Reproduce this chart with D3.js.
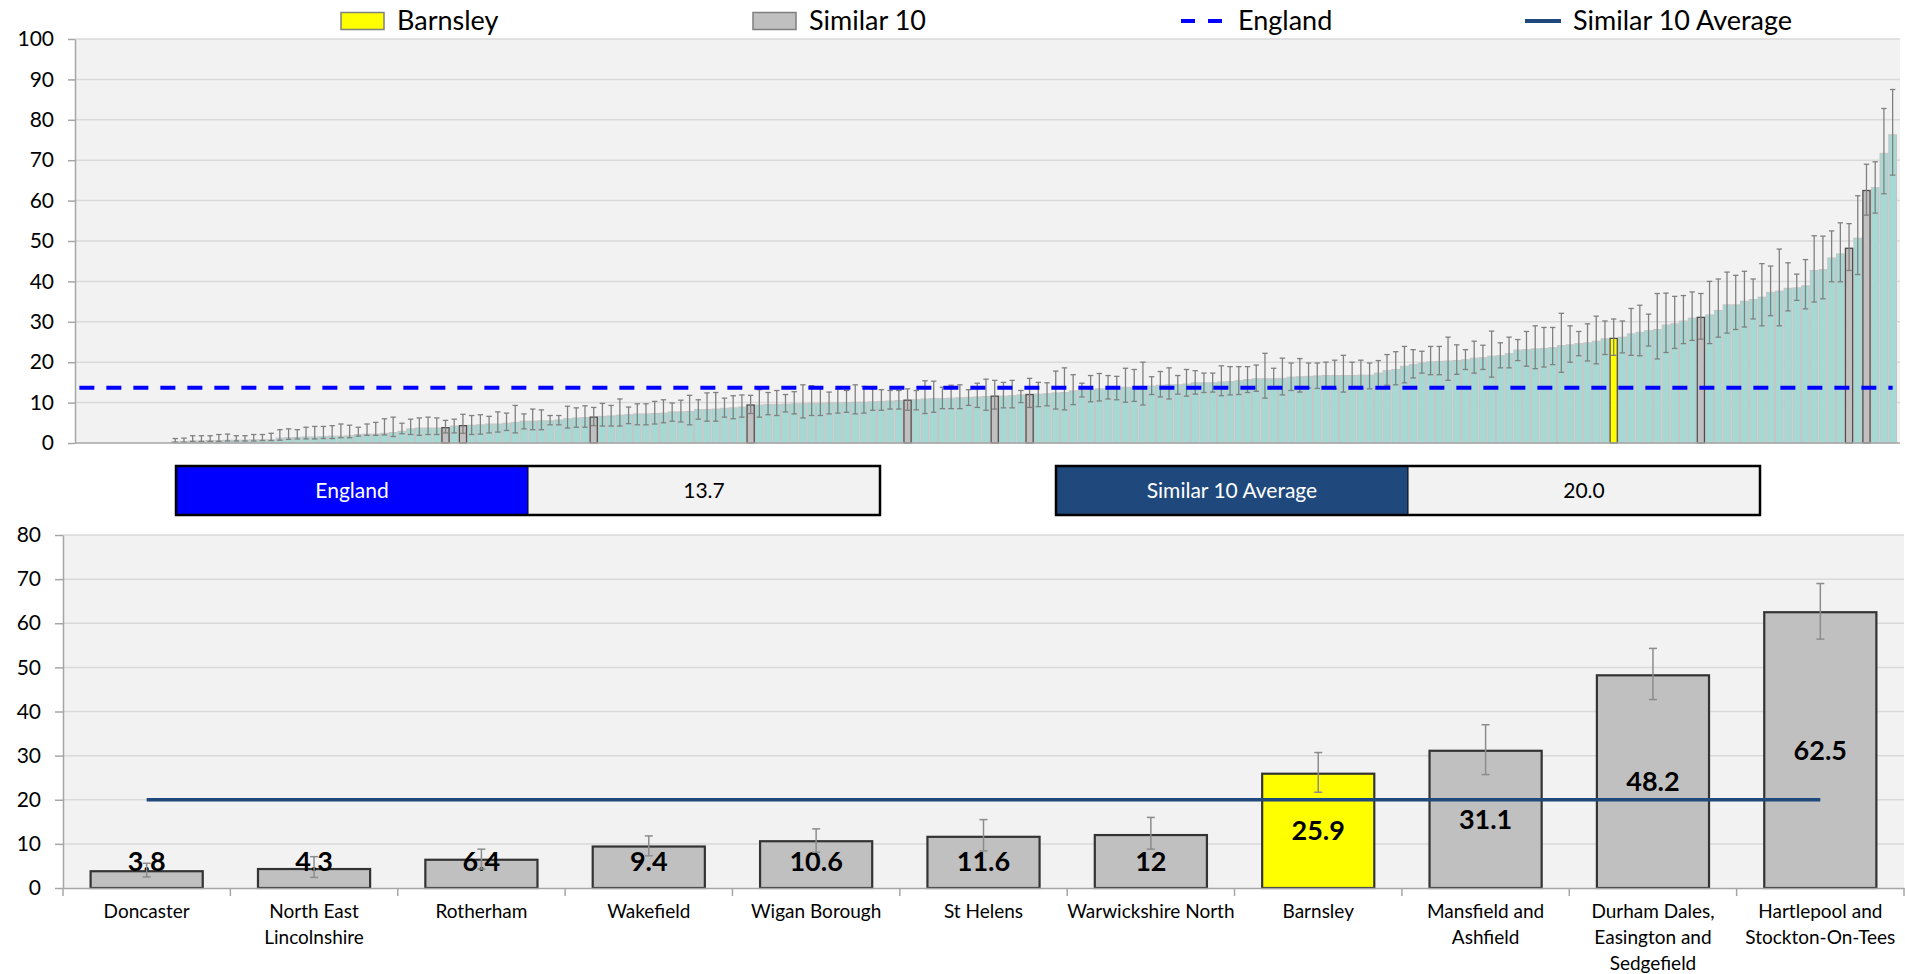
<!DOCTYPE html>
<html><head><meta charset="utf-8">
<script src="https://cdn.jsdelivr.net/npm/d3@7"></script>
<style>
html,body{margin:0;padding:0;background:#fff;}
svg{display:block;}
</style></head><body>
<svg id="chart" width="1905" height="974"></svg>
<script>
// ---------------- DATA ----------------
// Top chart: all areas ranked by rate (first 11 have no value)
const rankedRates = [
  null,null,null,null,null,null,null,null,null,null,null,
  0.3,0.4,0.5,0.5,0.6,0.6,0.7,0.7,0.7,0.8,0.8,0.8,
  1.2,1.3,1.4,1.5,1.5,1.6,1.7,1.7,1.8,2.1,2.2,2.2,2.4,2.6,2.9,
  3.5,3.7,3.7,3.7,3.8,4.2,4.3,4.4,4.5,4.7,
  4.7,4.9,5.1,5.4,5.4,5.5,5.5,5.7,6.0,6.2,
  6.3,6.4,6.6,6.7,6.9,7.0,7.2,7.2,7.3,7.4,
  7.7,7.7,7.8,8.3,8.3,8.4,8.6,8.7,8.9,9.4,
  9.4,9.5,9.5,9.6,9.7,9.7,9.8,9.8,9.9,9.9,
  10.0,10.1,10.1,10.2,10.3,10.4,10.5,10.6,10.7,10.9,
  11.0,11.0,11.1,11.2,11.3,11.4,11.5,11.6,11.6,11.7,
  11.9,12.0,12.1,12.2,12.4,12.5,12.9,13.0,13.2,13.4,
  13.4,13.6,13.8,13.8,14.0,14.1,14.3,14.4,14.4,14.6,
  14.9,14.9,14.9,15.1,15.2,15.4,15.7,15.9,15.9,15.9,
  16.0,16.3,16.4,16.5,16.6,16.7,16.7,16.7,16.7,16.8,
  16.8,17.3,17.9,18.2,19.0,19.4,19.8,20.1,20.2,20.3,
  20.4,20.6,21.0,21.1,21.5,21.6,22.1,23.0,23.1,23.3,
  23.4,23.6,24.1,24.3,24.6,24.8,25.2,25.8,25.9,26.2,
  27.0,27.4,27.8,28.1,29.2,29.5,30.2,30.9,31.1,31.7,
  32.8,34.2,34.2,35.1,35.5,36.1,37.3,37.6,38.3,38.4,
  38.9,42.7,42.9,45.8,46.8,48.2,50.7,62.5,63.2,71.7,76.3
];
const rankedLower = [
  null,null,null,null,null,null,null,null,null,null,null,
  0.2,0.2,0.4,0.4,0.4,0.4,0.5,0.5,0.5,0.5,0.6,0.6,
  0.7,0.9,1.0,1.0,1.0,1.1,1.1,1.3,1.3,1.7,1.9,1.9,2.0,1.6,2.3,
  2.1,1.9,2.1,2.1,2.5,2.5,2.4,2.1,2.2,2.5,
  2.7,3.1,2.5,3.5,3.3,3.3,4.5,4.5,3.7,3.9,
  3.9,4.3,4.2,4.2,4.2,4.8,4.5,4.5,4.7,5.0,
  5.4,5.2,4.5,5.9,5.4,5.4,6.4,6.0,6.4,7.3,
  6.4,7.0,6.8,7.7,7.2,6.2,6.8,6.8,7.2,7.4,
  7.6,7.2,7.4,8.1,8.1,8.4,8.4,8.1,8.2,7.3,
  7.6,8.5,8.5,8.5,9.3,8.8,8.1,8.4,8.7,8.7,
  10.0,8.8,9.0,9.2,8.4,8.2,9.5,11.4,10.2,10.4,
  10.9,10.7,10.1,10.3,9.4,12.0,11.4,10.9,12.1,11.6,
  12.1,12.5,12.6,11.7,11.9,12.0,12.5,12.8,11.1,13.6,
  11.9,13.0,12.6,13.6,13.5,13.5,13.4,12.6,13.5,13.4,
  13.4,13.6,14.3,14.4,14.9,16.1,17.3,16.9,16.9,15.5,
  17.0,18.2,17.3,18.2,16.3,18.6,18.6,20.4,19.0,18.4,
  18.8,19.4,17.5,20.0,21.6,20.3,19.6,21.9,21.7,22.3,
  21.7,21.6,24.0,20.8,22.4,23.4,24.6,25.4,25.7,24.6,
  26.2,27.2,28.1,28.7,30.7,29.0,31.5,29.0,32.7,35.3,
  33.2,34.9,35.7,39.9,39.9,42.7,41.7,56.4,56.9,61.7,66.3
];
const rankedUpper = [
  null,null,null,null,null,null,null,null,null,null,null,
  1.1,1.2,1.8,1.8,1.8,2.1,2.2,1.8,1.8,2.1,2.1,2.4,
  3.3,3.5,3.3,3.9,4.1,4.1,4.3,4.7,4.4,3.9,4.7,5.1,6.0,6.4,4.9,
  5.9,6.2,6.4,6.2,5.6,5.9,7.1,6.8,7.0,6.6,
  7.7,7.4,9.3,7.2,8.4,8.2,6.8,6.8,9.1,8.7,
  9.2,8.8,9.8,9.3,10.9,8.9,9.7,9.7,10.3,10.7,
  9.9,10.6,11.8,10.7,12.4,12.5,11.1,11.7,11.9,11.8,
  13.2,12.5,13.0,12.0,12.7,14.4,14.2,13.7,12.6,13.4,
  13.0,14.4,14.0,13.4,13.2,13.0,13.0,13.4,13.0,15.4,
  15.3,13.8,14.3,14.4,13.2,14.8,15.8,15.5,15.0,15.5,
  13.0,16.0,15.0,14.9,17.8,18.6,16.9,14.8,16.7,17.2,
  16.7,16.5,18.5,18.2,20.0,16.4,17.7,18.6,16.7,18.2,
  17.9,17.3,17.3,19.1,18.9,18.9,18.9,19.3,22.2,18.5,
  21.0,19.8,20.9,19.8,19.8,20.0,20.5,21.7,20.0,20.5,
  19.8,20.4,21.9,22.6,23.9,23.1,22.7,23.9,23.9,26.2,
  24.3,23.1,25.2,24.2,27.7,24.8,26.2,25.6,27.6,29.0,
  28.6,28.6,32.1,29.0,27.6,29.5,31.4,30.2,30.7,30.2,
  33.3,34.1,31.9,37.0,37.1,36.3,36.5,37.4,37.0,40.0,
  40.6,42.3,41.5,42.5,40.6,44.4,43.8,48.0,44.6,41.8,
  45.4,51.3,51.2,52.5,54.5,54.3,61.2,69.0,69.6,82.8,87.5
];

const englandValue = 13.7;
const similarAverage = 20.0;
const focusArea = "Barnsley";

// Bottom chart: the focus area and its 10 similar areas
const similarNames = ["Doncaster","North East Lincolnshire","Rotherham","Wakefield","Wigan Borough",
  "St Helens","Warwickshire North","Barnsley","Mansfield and Ashfield",
  "Durham Dales, Easington and Sedgefield","Hartlepool and Stockton-On-Tees"];
const similarValues = [3.8,4.3,6.4,9.4,10.6,11.6,12,25.9,31.1,48.2,62.5];
const similarLower  = [2.5,2.4,4.3,7.3,8.1,8.4,8.8,21.7,25.7,42.7,56.4];
const similarUpper  = [5.6,7.1,8.8,11.8,13.4,15.5,16.0,30.7,37.0,54.3,69.0];
// rank position (index into ranked list) of each similar area
const similarRanks  = [42,44,59,77,95,105,109,176,186,203,205];

const topTicks = d3.range(0, 101, 10);
const bottomTicks = d3.range(0, 81, 10);
const legendLabels = ["Barnsley","Similar 10","England","Similar 10 Average"];
const infoLabels = ["England","Similar 10 Average"];

// ---------------- DRAW ----------------
const FONT = "Lato, 'Open Sans', sans-serif";
const svg = d3.select("#chart").style("font-family", FONT);

const C = {
  bg:"#F2F2F2", grid:"#D9D9D9", axis:"#A6A6A6",
  teal:"#A6D9D4", tealStroke:"#C4C4C4",
  grey:"#C0C0C0", greyStroke:"#4D4D4D", yellow:"#FFFF00",
  err:"#808080", england:"#0000FF", avg:"#1F497D"
};

// ===== Legend =====
const lg = svg.append("g").attr("class","legend");
const legendY = 21;
const legendItems = [
  {label:legendLabels[0], type:"rect", fill:C.yellow, x:341},
  {label:legendLabels[1], type:"rect", fill:C.grey, x:753},
  {label:legendLabels[2], type:"dash", x:1181},
  {label:legendLabels[3], type:"line", x:1525}
];
legendItems.forEach(it=>{
  if(it.type==="rect"){
    lg.append("rect").attr("x",it.x).attr("y",legendY-8.5).attr("width",43).attr("height",17)
      .attr("fill",it.fill).attr("stroke","#7F7F7F").attr("stroke-width",1.5);
    lg.append("text").attr("x",it.x+56).attr("y",legendY).attr("dy","0.35em")
      .attr("font-size",27).text(it.label);
  } else if(it.type==="dash"){
    lg.append("line").attr("x1",it.x).attr("x2",it.x+43).attr("y1",legendY).attr("y2",legendY)
      .attr("stroke",C.england).attr("stroke-width",4).attr("stroke-dasharray","14,13");
    lg.append("text").attr("x",it.x+57).attr("y",legendY).attr("dy","0.35em")
      .attr("font-size",27).text(it.label);
  } else {
    lg.append("line").attr("x1",it.x).attr("x2",it.x+36).attr("y1",legendY).attr("y2",legendY)
      .attr("stroke",C.avg).attr("stroke-width",4);
    lg.append("text").attr("x",it.x+48).attr("y",legendY).attr("dy","0.35em")
      .attr("font-size",27).text(it.label);
  }
});

// ===== Top chart =====
const tL=75, tR=1897, tT=39, tB=443;
const topX = d3.scaleBand().domain(d3.range(rankedRates.length)).range([tL,tR]).padding(0);
const topY = d3.scaleLinear().domain([0,100]).range([tB,tT]);
const gt = svg.append("g");
gt.append("rect").attr("x",tL).attr("y",tT).attr("width",tR-tL+3).attr("height",tB-tT).attr("fill",C.bg);
gt.selectAll("line.grid").data(topTicks.filter(t=>t>0)).join("line")
  .attr("x1",tL).attr("x2",tR+3).attr("y1",d=>topY(d)).attr("y2",d=>topY(d))
  .attr("stroke",C.grid).attr("stroke-width",1.5);

const highlight = new Map(similarRanks.map((r,j)=>[r,similarNames[j]]));
const topData = rankedRates.map((v,i)=>({i,v,lo:rankedLower[i],hi:rankedUpper[i],name:highlight.get(i)}))
  .filter(d=>d.v!=null);
const bw = topX.bandwidth();

gt.selectAll("rect.bar").data(topData.filter(d=>!d.name)).join("rect")
  .attr("x",d=>topX(d.i)+0.5).attr("width",bw-1)
  .attr("y",d=>topY(d.v)).attr("height",d=>tB-topY(d.v))
  .attr("fill",C.teal).attr("stroke",C.tealStroke).attr("stroke-width",1);
gt.selectAll("rect.hbar").data(topData.filter(d=>d.name)).join("rect")
  .attr("x",d=>topX(d.i)+0.75).attr("width",bw-1.5)
  .attr("y",d=>topY(d.v)).attr("height",d=>tB-topY(d.v))
  .attr("fill",d=>d.name===focusArea?C.yellow:C.grey).attr("stroke",C.greyStroke).attr("stroke-width",1.3);

const eg = gt.append("g").attr("stroke",C.err).attr("stroke-width",1.3);
topData.forEach(d=>{
  const cx = topX(d.i)+bw/2;
  eg.append("line").attr("x1",cx).attr("x2",cx).attr("y1",topY(d.hi)).attr("y2",topY(d.lo));
  eg.append("line").attr("x1",cx-2.7).attr("x2",cx+2.7).attr("y1",topY(d.hi)).attr("y2",topY(d.hi));
  eg.append("line").attr("x1",cx-2.7).attr("x2",cx+2.7).attr("y1",topY(d.lo)).attr("y2",topY(d.lo));
});

const topAxis = gt.append("g").attr("transform",`translate(${tL},0)`)
  .call(d3.axisLeft(topY).tickValues(topTicks).tickSize(7).tickPadding(14).tickSizeOuter(0));
topAxis.select(".domain").attr("stroke",C.axis).attr("stroke-width",1.5);
topAxis.selectAll(".tick line").attr("stroke",C.axis).attr("stroke-width",1.5);
topAxis.selectAll("text").attr("font-size",21).attr("font-family",FONT).attr("fill","#000");
gt.append("line").attr("x1",tL).attr("x2",tR+3).attr("y1",tB).attr("y2",tB)
  .attr("stroke",C.axis).attr("stroke-width",1.5);

// England line
const firstI = 0, lastI = rankedRates.length-1;
gt.append("line")
  .attr("x1",topX(firstI)+bw/2).attr("x2",topX(lastI)+bw/2)
  .attr("y1",topY(englandValue)).attr("y2",topY(englandValue))
  .attr("stroke",C.england).attr("stroke-width",4).attr("stroke-dasharray","15,12");

// ===== Info boxes =====
const infoData = [
  {label:infoLabels[0], value:englandValue.toFixed(1), fill:C.england, x:176},
  {label:infoLabels[1], value:similarAverage.toFixed(1), fill:C.avg, x:1056}
];
const ib = svg.append("g");
infoData.forEach(d=>{
  const w=352, y=466, h=49;
  ib.append("rect").attr("x",d.x).attr("y",y).attr("width",w).attr("height",h).attr("fill",d.fill);
  ib.append("rect").attr("x",d.x+w).attr("y",y).attr("width",w).attr("height",h).attr("fill",C.bg);
  ib.append("rect").attr("x",d.x).attr("y",y).attr("width",2*w).attr("height",h)
    .attr("fill","none").attr("stroke","#000").attr("stroke-width",2.5);
  ib.append("line").attr("x1",d.x+w).attr("x2",d.x+w).attr("y1",y).attr("y2",y+h).attr("stroke","#000").attr("stroke-width",1);
  ib.append("text").attr("x",d.x+w/2).attr("y",y+h/2).attr("dy","0.35em").attr("text-anchor","middle")
    .attr("fill","#fff").attr("font-size",21).text(d.label);
  ib.append("text").attr("x",d.x+w*1.5).attr("y",y+h/2).attr("dy","0.35em").attr("text-anchor","middle")
    .attr("fill","#000").attr("font-size",21).text(d.value);
});

// ===== Bottom chart =====
const bL=63, bR=1904, bT=535, bB=888;
const botX = d3.scaleBand().domain(similarNames).range([bL,bR]).paddingInner(0.33).paddingOuter(0.165);
const botY = d3.scaleLinear().domain([0,80]).range([bB,bT]);
const gb = svg.append("g");
gb.append("rect").attr("x",bL).attr("y",bT).attr("width",bR-bL).attr("height",bB-bT).attr("fill",C.bg);
gb.selectAll("line.grid").data(bottomTicks.filter(t=>t>0)).join("line")
  .attr("x1",bL).attr("x2",bR).attr("y1",d=>botY(d)).attr("y2",d=>botY(d))
  .attr("stroke",C.grid).attr("stroke-width",1.5);

const botData = similarNames.map((n,j)=>({n,v:similarValues[j],lo:similarLower[j],hi:similarUpper[j]}));
const bbw = botX.bandwidth();
gb.selectAll("rect.bar").data(botData).join("rect")
  .attr("x",d=>botX(d.n)).attr("width",bbw)
  .attr("y",d=>botY(d.v)).attr("height",d=>bB-botY(d.v))
  .attr("fill",d=>d.n===focusArea?C.yellow:C.grey)
  .attr("stroke","#333333").attr("stroke-width",2.2);

const botAxisL = gb.append("g").attr("transform",`translate(${bL},0)`)
  .call(d3.axisLeft(botY).tickValues(bottomTicks).tickSize(8).tickPadding(14).tickSizeOuter(0));
botAxisL.select(".domain").attr("stroke",C.axis).attr("stroke-width",1.5);
botAxisL.selectAll(".tick line").attr("stroke",C.axis).attr("stroke-width",1.5);
botAxisL.selectAll("text").attr("font-size",21).attr("font-family",FONT).attr("fill","#000");

const botAxisB = gb.append("g").attr("transform",`translate(0,${bB})`)
  .call(d3.axisBottom(botX).tickSize(0).tickPadding(0).tickSizeOuter(0));
botAxisB.select(".domain").attr("stroke",C.axis).attr("stroke-width",1.5);
botAxisB.selectAll("text").attr("font-size",19).attr("font-family",FONT).attr("fill","#000")
  .attr("y",0).attr("dy",null)
  .each(function(){ wrap(d3.select(this), botX.step()+4); });
// category boundary ticks
gb.selectAll("line.ctick").data(d3.range(similarNames.length+1)).join("line")
  .attr("x1",i=>bL+i*botX.step()).attr("x2",i=>bL+i*botX.step())
  .attr("y1",bB).attr("y2",bB+8).attr("stroke",C.axis).attr("stroke-width",1.5);

function wrap(text, width){
  const words = text.text().split(/\s+/);
  text.text(null);
  let line=[], lines=[];
  const tmp = text.append("tspan");
  words.forEach(w=>{
    line.push(w);
    tmp.text(line.join(" "));
    if(tmp.node().getComputedTextLength()>width && line.length>1){
      line.pop(); lines.push(line.join(" ")); line=[w];
    }
  });
  lines.push(line.join(" "));
  tmp.remove();
  lines.forEach((l,k)=>{
    text.append("tspan").attr("x",0).attr("y",23+k*26).attr("dy","0.35em").text(l);
  });
}

// data labels
gb.selectAll("text.lbl").data(botData).join("text")
  .attr("x",d=>botX(d.n)+bbw/2)
  .attr("y",d=>Math.min((botY(d.v)+bB)/2, bB-26))
  .attr("dy","0.35em").attr("text-anchor","middle")
  .attr("font-size",27).attr("font-weight","bold").attr("fill","#000")
  .text(d=>String(d.v));

// similar 10 average line
gb.append("line")
  .attr("x1",botX(similarNames[0])+bbw/2).attr("x2",botX(similarNames[similarNames.length-1])+bbw/2)
  .attr("y1",botY(similarAverage)).attr("y2",botY(similarAverage))
  .attr("stroke",C.avg).attr("stroke-width",3.5);

// error bars
const beg = gb.append("g").attr("stroke","#8C8C8C").attr("stroke-width",1.5);
botData.forEach(d=>{
  const cx = botX(d.n)+bbw/2;
  beg.append("line").attr("x1",cx).attr("x2",cx).attr("y1",botY(d.hi)).attr("y2",botY(d.lo));
  beg.append("line").attr("x1",cx-4).attr("x2",cx+4).attr("y1",botY(d.hi)).attr("y2",botY(d.hi));
  beg.append("line").attr("x1",cx-4).attr("x2",cx+4).attr("y1",botY(d.lo)).attr("y2",botY(d.lo));
});
</script>
</body></html>
